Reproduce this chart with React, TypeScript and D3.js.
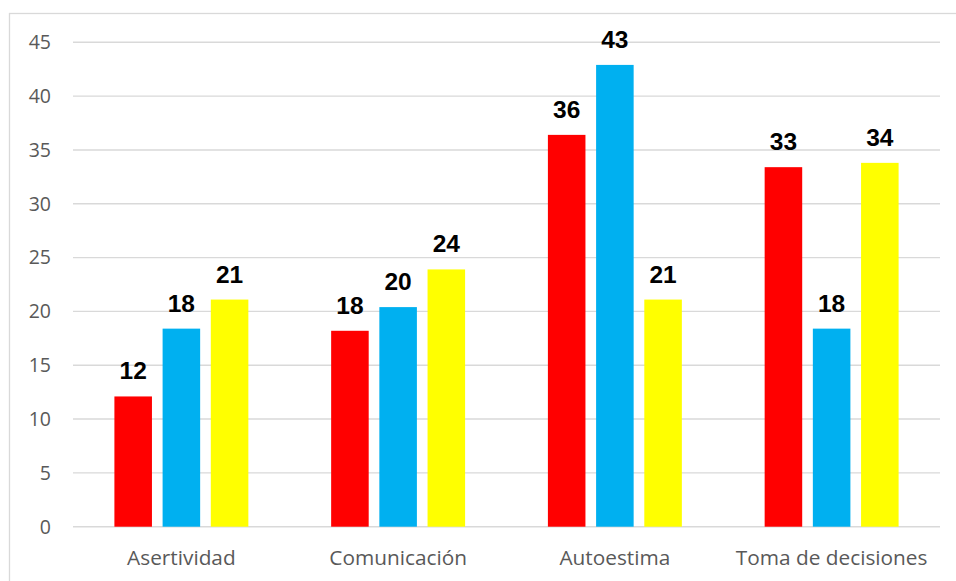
import React from "react";
import * as d3 from "d3";

const categories = ["Asertividad", "Comunicación", "Autoestima", "Toma de decisiones"];
const seriesNames = ["Serie 1", "Serie 2", "Serie 3"];
const seriesColors = ["#FF0000", "#00B0F0", "#FFFF00"];
const serie1 = [12.1, 18.2, 36.4, 33.4];
const serie2 = [18.4, 20.4, 42.9, 18.4];
const serie3 = [21.1, 23.9, 21.1, 33.8];
const yTicks = [0, 5, 10, 15, 20, 25, 30, 35, 40, 45];

const W = 956;
const H = 581;

export default function App() {
  const values = [serie1, serie2, serie3];
  const left = 73, right = 940, top = 42.3, bottom = 526.7;
  const y = d3.scaleLinear().domain([0, 45]).range([bottom, top]);
  const x0 = d3.scaleBand<string>().domain(categories).range([left, right]).padding(0);
  const bw = x0.bandwidth();
  const x1 = d3
    .scaleBand<string>()
    .domain(seriesNames)
    .range([bw * 0.191, bw * 0.809])
    .paddingInner(0.221)
    .paddingOuter(0);
  const tickFont = "'Open Sans', 'Noto Sans', sans-serif";
  return (
    <svg
      width={W}
      height={H}
      style={{ position: "fixed", top: 0, left: 0, background: "#fff" }}
    >
      <rect x={9.5} y={13.5} width={960} height={600} fill="#fff" stroke="#d9d9d9" strokeWidth={1.3} />
      {yTicks.map((t) => (
        <g key={t}>
          <line x1={left} x2={right} y1={y(t)} y2={y(t)} stroke="#d9d9d9" strokeWidth={1.4} />
          <text
            x={51}
            y={y(t)}
            dy="0.35em"
            textAnchor="end"
            fontFamily={tickFont}
            fontSize={19.5}
            fill="#595959"
          >
            {t}
          </text>
        </g>
      ))}
      {categories.map((c, ci) => (
        <g key={c} transform={`translate(${x0(c)},0)`}>
          {seriesNames.map((s, si) => {
            const v = values[si][ci];
            const bx = x1(s)!;
            return (
              <g key={s}>
                <rect
                  x={bx}
                  y={y(v)}
                  width={x1.bandwidth()}
                  height={y(0) - y(v)}
                  fill={seriesColors[si]}
                />
                <text
                  x={bx + x1.bandwidth() / 2}
                  y={y(v) - 17}
                  textAnchor="middle"
                  fontFamily="'Liberation Sans', Arial, sans-serif"
                  fontWeight="bold"
                  fontSize={24.5}
                  fill="#000"
                >
                  {Math.round(v)}
                </text>
              </g>
            );
          })}
          <text
            x={bw / 2}
            y={565}
            textAnchor="middle"
            fontFamily={tickFont}
            fontSize={20.8}
            fill="#595959"
          >
            {c}
          </text>
        </g>
      ))}
    </svg>
  );
}
